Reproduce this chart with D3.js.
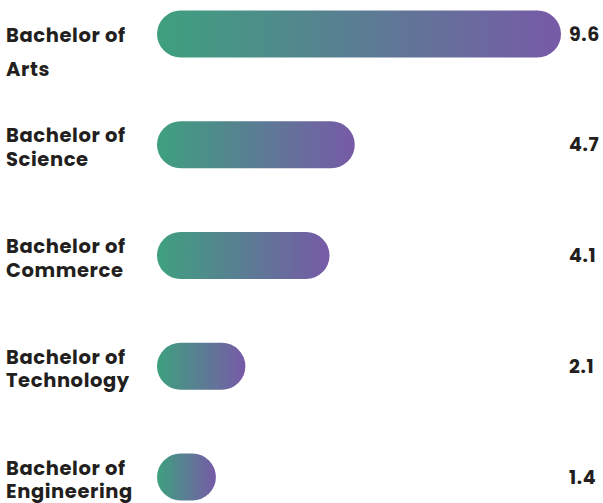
<!DOCTYPE html>
<html>
<head>
<meta charset="utf-8">
<script src="https://cdn.jsdelivr.net/npm/d3@7"></script>
<style>
  html, body { margin: 0; padding: 0; background: #fff; }
  svg { display: block; }
  text { font-family: Poppins, Inter, "DejaVu Sans", sans-serif; font-weight: 700; fill: #231f20; }
</style>
</head>
<body>
<div id="chart"></div>
<script>
// data
const degrees = ['Bachelor of Arts', 'Bachelor of Science', 'Bachelor of Commerce', 'Bachelor of Technology', 'Bachelor of Engineering'];
const labelLines = [['Bachelor of', 'Arts'], ['Bachelor of', 'Science'], ['Bachelor of', 'Commerce'], ['Bachelor of', 'Technology'], ['Bachelor of', 'Engineering']];
const values = [9.6, 4.7, 4.1, 2.1, 1.4];

const width = 603, height = 503;
const barX = 157, barH = 47;

const svg = d3.select('#chart').append('svg')
    .attr('width', width)
    .attr('height', height);

// gradient used by every bar (objectBoundingBox so each bar gets full sweep)
const grad = svg.append('defs').append('linearGradient')
    .attr('id', 'barGrad')
    .attr('x1', '0%').attr('x2', '100%')
    .attr('y1', '0%').attr('y2', '0%');
grad.append('stop').attr('offset', '0%').attr('stop-color', '#3ea07f');
grad.append('stop').attr('offset', '100%').attr('stop-color', '#775aa7');

const x = d3.scaleLinear()
    .domain([0, 9.6])
    .range([0, 404]);

const y = d3.scalePoint()
    .domain(degrees)
    .range([34, 477]);

const rows = degrees.map((d, i) => ({ name: d, lines: labelLines[i], value: values[i], i }));

// bars
svg.selectAll('.bar')
    .data(rows)
    .enter()
    .append('rect')
    .attr('class', 'bar')
    .attr('x', barX)
    .attr('y', d => y(d.name) - barH / 2)
    .attr('width', d => x(d.value))
    .attr('height', barH)
    .attr('rx', barH / 2)
    .attr('ry', barH / 2)
    .attr('fill', 'url(#barGrad)');

// category labels (first row sits lower with a looser line gap in the original)
const lab = svg.selectAll('.cat')
    .data(rows)
    .enter()
    .append('text')
    .attr('class', 'cat')
    .attr('x', 6)
    .attr('y', d => y(d.name) + (d.i === 0 ? 7.5 : -2.5))
    .style('font-size', '19.5px')
    .style('letter-spacing', '0.6px');

lab.selectAll('tspan')
    .data(d => d.lines.map((t, j) => ({ t, j, first: d.i === 0 })))
    .enter()
    .append('tspan')
    .attr('x', 6)
    .attr('dy', d => d.j === 0 ? 0 : (d.first ? 34 : 23.5))
    .text(d => d.t);

// value labels at right
svg.selectAll('.val')
    .data(rows)
    .enter()
    .append('text')
    .attr('class', 'val')
    .attr('x', 569)
    .attr('y', d => y(d.name) + 6.5)
    .style('font-size', '19px')
    .style('letter-spacing', '0.6px')
    .text(d => d.value);
</script>
</body>
</html>
